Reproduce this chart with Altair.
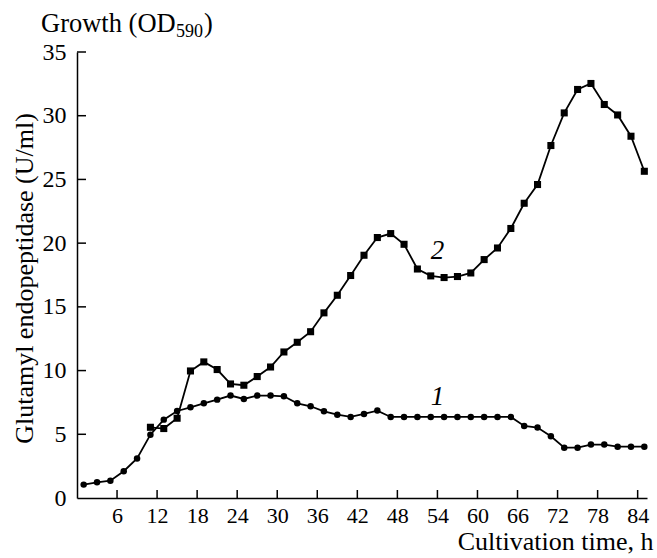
import altair as alt
import pandas as pd

# Sampling times (h)
times_growth = list(range(1, 86, 2))
times_enzyme = list(range(11, 86, 2))

# Curve 1: growth, OD590
growth = [1.05, 1.23, 1.36, 2.1, 3.1, 4.97, 6.15, 6.83, 7.12, 7.43,
          7.72, 8.04, 7.77, 8.04, 8.04, 7.98, 7.43, 7.2, 6.8, 6.54,
          6.36, 6.6, 6.86, 6.36, 6.36, 6.36, 6.36, 6.36, 6.36, 6.36,
          6.36, 6.36, 6.36, 5.65, 5.53, 4.84, 3.95, 3.95, 4.19, 4.19,
          4.03, 4.03, 4.03]

# Curve 2: glutamyl endopeptidase activity, U/ml
enzyme = [5.55, 5.45, 6.26, 9.97, 10.68, 10.08, 8.95, 8.85, 9.53, 10.28,
          11.46, 12.22, 13.05, 14.53, 15.91, 17.46, 19.05, 20.44, 20.75, 19.91,
          17.97, 17.43, 17.3, 17.38, 17.66, 18.71, 19.62, 21.15, 23.13, 24.6,
          27.66, 30.22, 32.06, 32.53, 30.88, 30.06, 28.39, 25.64]

x_ticks = [6, 12, 18, 24, 30, 36, 42, 48, 54, 60, 66, 72, 78, 84]
y_ticks = [0, 5, 10, 15, 20, 25, 30, 35]

# Curve labels
curve_labels = ["1", "2"]
curve_label_t = [54, 54]
curve_label_v = [7.95, 19.4]

FONT = "Liberation Serif, Times New Roman, serif"
W, H = 570, 446

df1 = pd.DataFrame({"t": times_growth, "v": growth})
df2 = pd.DataFrame({"t": times_enzyme, "v": enzyme})
dfx = pd.DataFrame({"t": x_ticks})
dfy = pd.DataFrame({"v": y_ticks[1:]})
dfl = pd.DataFrame({"t": curve_label_t, "v": curve_label_v, "label": curve_labels})

xs = alt.Scale(domain=[0, 85.4], nice=False, zero=False)
ys = alt.Scale(domain=[0, 35], nice=False)

x_axis = alt.Axis(
    values=x_ticks, ticks=False, grid=False, domainColor="black", domainWidth=1.5,
    labelFont=FONT, labelFontSize=22, labelColor="black", labelPadding=7,
    labelFlush=False, labelOverlap=False,
    title="Cultivation time, h", titleFont=FONT, titleFontSize=26,
    titleFontWeight="normal", titleColor="black", titleAlign="right",
    titleAnchor="end", titleX=576, titleY=51, titleBaseline="alphabetic",
)
y_axis = alt.Axis(
    values=y_ticks, ticks=False, grid=False, domainColor="black", domainWidth=1.5,
    labelFont=FONT, labelFontSize=24, labelColor="black", labelPadding=11,
    labelFlush=False, labelOverlap=False,
    title="Glutamyl endopeptidase (U/ml)", titleFont=FONT, titleFontSize=26,
    titleFontWeight="normal", titleColor="black", titleAngle=270,
    titleX=-45, titleY=226, titleBaseline="alphabetic", titleAlign="center",
)

X = alt.X("t:Q", scale=xs, axis=x_axis)
Y = alt.Y("v:Q", scale=ys, axis=y_axis)

line1 = alt.Chart(df1).mark_line(color="black", strokeWidth=1.8).encode(x=X, y=Y)
pts1 = alt.Chart(df1).mark_point(shape="circle", filled=True, color="black",
                                 size=42, opacity=1).encode(x=X, y=Y)
line2 = alt.Chart(df2).mark_line(color="black", strokeWidth=1.8).encode(x=X, y=Y)
pts2 = alt.Chart(df2).mark_point(shape="square", filled=True, color="black",
                                 size=50, opacity=1).encode(x=X, y=Y)

# Inward-pointing tick marks
xtick_rules = alt.Chart(dfx).mark_rule(color="black", strokeWidth=1.5).encode(
    x=X, y=alt.value(H), y2=alt.value(H - 8))
ytick_rules = alt.Chart(dfy).mark_rule(color="black", strokeWidth=1.5).encode(
    y=Y, x=alt.value(0), x2=alt.value(9))

labels = alt.Chart(dfl).mark_text(font=FONT, fontSize=27, fontStyle="italic",
                                  color="black", align="center",
                                  baseline="middle").encode(x=X, y=Y, text="label:N")

# Secondary heading with subscript
head_main = alt.Chart(pd.DataFrame({"s": ["Growth (OD"]})).mark_text(
    font=FONT, fontSize=26.5, color="black", align="left", baseline="alphabetic"
).encode(x=alt.value(-36), y=alt.value(-20), text="s:N")
head_sub = alt.Chart(pd.DataFrame({"s": ["590"]})).mark_text(
    font=FONT, fontSize=18, color="black", align="left", baseline="alphabetic"
).encode(x=alt.value(99), y=alt.value(-15), text="s:N")
head_close = alt.Chart(pd.DataFrame({"s": [")"]})).mark_text(
    font=FONT, fontSize=26.5, color="black", align="left", baseline="alphabetic"
).encode(x=alt.value(127), y=alt.value(-20), text="s:N")

chart = alt.layer(
    line1, line2, pts1, pts2, xtick_rules, ytick_rules, labels,
    head_main, head_sub, head_close,
).properties(
    width=W, height=H,
    autosize=alt.AutoSizeParams(type="none"),
    padding={"left": 77, "top": 52, "right": 10, "bottom": 60},
    background="white",
).configure_view(stroke=None)

chart.save("out.html", embed_options={"renderer": "svg", "actions": False})
